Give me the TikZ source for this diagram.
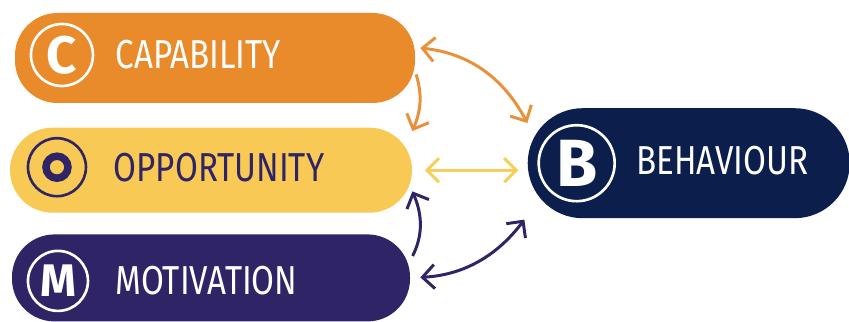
\documentclass[tikz,border=0pt]{standalone}
\usepackage{fontspec}
\usetikzlibrary{positioning,arrows.meta}
\newfontfamily\handfont[FakeStretch=0.82]{Fira Sans}
\newfontfamily\iconfont{Fira Sans}
\definecolor{capcol}{HTML}{E98B2A}
\definecolor{oppcol}{HTML}{F8CA55}
\definecolor{motcol}{HTML}{2F2466}
\definecolor{behcol}{HTML}{0B1E4C}
\definecolor{yelarr}{HTML}{F4D05A}
\definecolor{orarr}{HTML}{E8913A}
\tikzset{
	pill/.style={
		rectangle,
		rounded corners=0.85cm,
		inner sep=0pt
	}
}

\begin{document}
\begin{tikzpicture}[>={Straight Barb[length=0.24cm,width=0.48cm]}]
			\tikzstyle{label}=[inner sep=0pt, anchor=west, font=\handfont\fontsize{23}{23}\selectfont]
			\tikzstyle{icon}=[circle, draw, line width=1.5pt, minimum size=1.24cm, inner sep=0pt, font=\iconfont\bfseries\fontsize{30}{30}\selectfont]
			\tikzstyle{connect}=[line width=1.7pt]
			\useasboundingbox (0,0) rectangle (16.98,6.44);
			\node[pill, fill=capcol] (cap) at (4.30,5.28) [minimum width=8cm, minimum height=1.8cm] {};
			\node[pill, fill=oppcol] (opp) [below=0.48cm of cap, xshift=-0.08cm, minimum width=8.04cm, minimum height=1.7cm] {};
			\node[pill, fill=motcol] (mot) [below=0.42cm of opp, minimum width=7.96cm, minimum height=1.74cm] {};
			\node[pill, fill=behcol, rounded corners=1.1cm] (beh) [right=2.3cm of opp, yshift=0.14cm, minimum width=6.44cm, minimum height=2.2cm] {};

			\node[icon, draw=white, text=white] (capicon) [right=0.3cm of cap.west, yshift=0.06cm] {C};
			\node[label, text=white] (captext) [right=0.42cm of capicon] {CAPABILITY};
			\node[icon, draw=motcol, minimum size=1.16cm] (oppicon) [right=0.34cm of opp.west, yshift=0.06cm] {};
			\draw[motcol, line width=0.15cm] (oppicon) circle (0.22);
			\node[label, text=motcol] (opptext) [right=0.52cm of oppicon] {OPPORTUNITY};
			\node[icon, draw=white, text=white, minimum size=1.2cm, font=\iconfont\bfseries\fontsize{26}{26}\selectfont] (moticon) [right=0.3cm of mot.west, yshift=-0.06cm] {M};
			\node[label, text=white] (mottext) [right=0.52cm of moticon] {MOTIVATION};
			\node[icon, draw=white, text=white, minimum size=1.52cm, font=\iconfont\bfseries\fontsize{38}{38}\selectfont] (behicon) [right=0.2cm of beh.west] {B};
			\node[label, text=white] (behtext) [right=0.4cm of behicon, yshift=0.05cm] {BEHAVIOUR};

			\draw[connect, orarr, <->, shorten <=0.1cm] (cap.3) to[bend left=28] (beh.166);
			\draw[connect, orarr, ->, shorten <=0.05cm] (cap.-4) to[bend left=20] (opp.11);
			\draw[connect, yelarr, <->, shorten <=0.25cm, shorten >=0.18cm] (opp.east) -- (opp.east -| beh.west);
			\draw[connect, motcol, ->, shorten <=0.1cm] (mot.5) to[bend right=25] (opp.-6);
			\draw[connect, motcol, <->, shorten <=0.2cm, shorten >=0.1cm] (mot.0) to[bend right=25] (beh.198);
\end{tikzpicture}
\end{document}
